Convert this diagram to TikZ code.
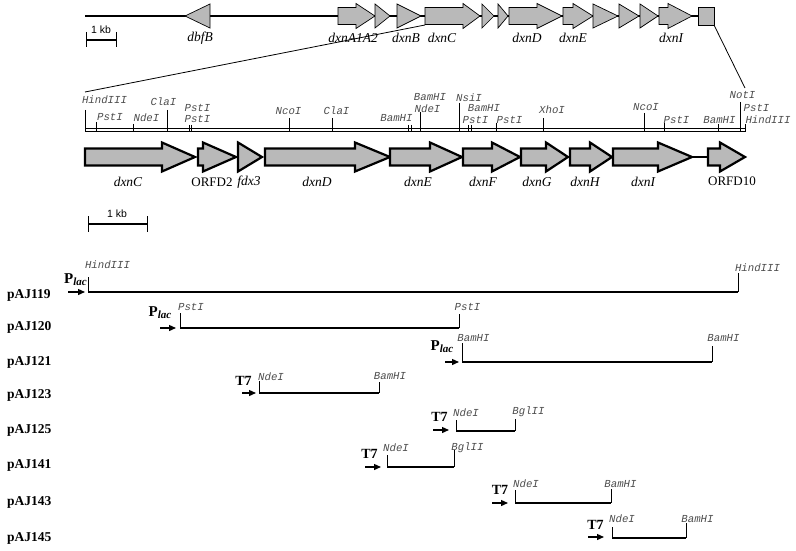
\documentclass[tikz,border=0pt]{standalone}
\usepackage{fontspec}
\setmainfont{Liberation Serif}
\setsansfont{Liberation Sans}
\setmonofont{Liberation Mono}
\usetikzlibrary{arrows.meta}
\newcommand{\garr}[7]{\draw[#1] ({#2},{#5-#6}) -- ({#3},{#5-#6}) -- ({#3},{#5-#7}) -- ({#4},{#5}) -- ({#3},{#5+#7}) -- ({#3},{#5+#6}) -- ({#2},{#5+#6}) -- cycle;}
\newcommand{\gtri}[5]{\draw[#1] ({#2},{#4-#5}) -- ({#3},{#4}) -- ({#2},{#4+#5}) -- cycle;}
\newcommand{\plac}{\textbf{P}{\fontsize{11}{11}\selectfont\raisebox{-0.35ex}{\textbf{\textit{lac}}}}}
\begin{document}
\begin{tikzpicture}[x=1pt,y=-1pt,
  gtop/.style={draw=black, fill=gray!55, line width=0.7pt, line join=miter},
  glow/.style={draw=black, fill=gray!55, line width=2.2pt, line join=miter},
  site/.style={font=\fontsize{10.7}{11}\selectfont\ttfamily\itshape, text=black!70, inner sep=0pt},
  gname/.style={font=\fontsize{13.5}{13.5}\selectfont\itshape, inner sep=0pt},
  gnameup/.style={font=\fontsize{13}{13}\selectfont, inner sep=0pt},
  plname/.style={font=\fontsize{13.5}{14}\selectfont\bfseries, inner sep=0pt, anchor=west},
  prom/.style={font=\fontsize{15}{15}\selectfont, inner sep=0pt},
  tsev/.style={font=\fontsize{14}{14}\selectfont\bfseries, inner sep=0pt},
  kb/.style={font=\fontsize{10.5}{11}\selectfont\sffamily, inner sep=0pt},
  tick/.style={line width=0.8pt},
  rline/.style={line width=0.6pt},
  cline/.style={line width=1.5pt},
  pro/.style={line width=1.3pt, -{Triangle[length=7pt,width=6pt]}}]
\useasboundingbox (0,0) rectangle (796,551);
% ---------- top overview ----------
\draw[line width=1.8pt] (85,16) -- (698,16);
\gtri{gtop}{210}{185}{16}{12}
\garr{gtop}{338}{356}{375}{16}{8.5}{12.5}
\gtri{gtop}{375}{390}{16}{12}
\gtri{gtop}{397}{421}{16}{12}
\garr{gtop}{425}{463}{480}{16}{8.5}{12.5}
\gtri{gtop}{482}{494}{16}{12}
\gtri{gtop}{498}{508}{16}{12}
\garr{gtop}{509}{537}{562}{16}{8.5}{12.5}
\garr{gtop}{563}{573}{593}{16}{8.5}{12.5}
\gtri{gtop}{593}{618}{16}{12}
\gtri{gtop}{619}{639}{16}{12}
\gtri{gtop}{640}{658}{16}{12}
\garr{gtop}{659}{668}{692}{16}{8.5}{12.5}
\draw[gtop] (698,7.5) rectangle (714,25) coordinate (boxbr);
\coordinate (boxbl) at (425,25);
\node[gname] (t1) at (200,38) {dbfB};
\node[gname] (t2) at (353,38) {dxnA1A2};
\node[gname] (t3) at (406,38) {dxnB};
\node[gname] (t4) at (442,38) {dxnC};
\node[gname] (t5) at (527,38) {dxnD};
\node[gname] (t6) at (573,38) {dxnE};
\node[gname] (t7) at (671,38) {dxnI};
% top scale bar
\draw[line width=1.2pt] (86,40) -- (116,40);
\draw[tick] (86,32) -- (86,47);
\draw[tick] (116,32) -- (116,47);
\node[kb] (kb1) at (101,30) {1 kb};
% expansion lines
\coordinate (exl) at (85,92);
\coordinate (exr) at (745,88);
\draw[line width=0.8pt] (boxbl) -- (exl);
\draw[line width=0.8pt] (boxbr) -- (exr);
% ---------- restriction map ----------
\draw[rline] (85,128.5) -- (745,128.5);
\draw[rline] (85,131.5) -- (745,131.5);
\foreach \x/\t in {85/110, 96/122, 133/124, 167/110, 189/125, 191.5/125, 289/118, 332/118,
  408/125, 411/125, 420/112, 459/103, 468/125, 471/125, 496/123, 543/118, 644/113,
  664/123, 718/124, 740/102, 745/124}
  \draw[tick] (\x,\t) -- (\x,132);
\node[site] (s1) at (104.5,100) {HindIII};
\node[site] (s2) at (110,117) {PstI};
\node[site] (s3) at (146.5,118) {NdeI};
\node[site] (s4) at (163.5,102) {ClaI};
\node[site] (s5) at (197.5,107.5) {PstI};
\node[site] (s6) at (197.5,118.5) {PstI};
\node[site] (s7) at (288.5,111) {NcoI};
\node[site] (s8) at (336.5,111) {ClaI};
\node[site] (s9) at (396.5,118) {BamHI};
\node[site] (s10) at (430,97.5) {BamHI};
\node[site] (s11) at (427.5,109) {NdeI};
\node[site] (s12) at (469,97.5) {NsiI};
\node[site] (s13) at (484,108.5) {BamHI};
\node[site] (s14) at (475.5,120) {PstI};
\node[site] (s15) at (509.5,120) {PstI};
\node[site] (s16) at (552,110) {XhoI};
\node[site] (s17) at (646,107) {NcoI};
\node[site] (s18) at (676.5,120) {PstI};
\node[site] (s19) at (719.5,120) {BamHI};
\node[site] (s20) at (742.5,95) {NotI};
\node[site] (s21) at (756.5,107.5) {PstI};
\node[site] (s22) at (768,120) {HindIII};
% ---------- gene arrows ----------
\draw[line width=1.2pt] (692,157) -- (708,157);
\garr{glow}{85}{162}{195}{157}{8.5}{14.5}
\garr{glow}{198}{203}{236}{157}{8.5}{14.5}
\gtri{glow}{238}{262}{157}{14.5}
\garr{glow}{265}{355}{390}{157}{8.5}{14.5}
\garr{glow}{390}{430}{462}{157}{8.5}{14.5}
\garr{glow}{463}{492}{520}{157}{8.5}{14.5}
\garr{glow}{521}{546}{568}{157}{8.5}{14.5}
\garr{glow}{570}{590}{612}{157}{8.5}{14.5}
\garr{glow}{613}{658}{692}{157}{8.5}{14.5}
\garr{glow}{708}{720}{745}{157}{8.5}{14.5}
\node[gname] (g1) at (128,182) {dxnC};
\node[gnameup] (g2) at (212,182) {ORFD2};
\node[gname] (g3) at (249,182) {fdx3};
\node[gname] (g4) at (317,182) {dxnD};
\node[gname] (g5) at (418,182) {dxnE};
\node[gname] (g6) at (483,182) {dxnF};
\node[gname] (g7) at (537,182) {dxnG};
\node[gname] (g8) at (585,182) {dxnH};
\node[gname] (g9) at (643,182) {dxnI};
\node[gnameup] (g10) at (732,181) {ORFD10};
% lower scale bar
\draw[line width=1.3pt] (88,224) -- (147,224);
\draw[tick] (88,216) -- (88,232);
\draw[tick] (147,216) -- (147,232);
\node[kb] (kb2) at (117,214) {1 kb};
% ---------- constructs ----------
\node[plname] (p1) at (7,295) {pAJ119};
\node[plname] (p2) at (7,327) {pAJ120};
\node[plname] (p3) at (7,362) {pAJ121};
\node[plname] (p4) at (7,395) {pAJ123};
\node[plname] (p5) at (7,430) {pAJ125};
\node[plname] (p6) at (7,465) {pAJ141};
\node[plname] (p7) at (7,502) {pAJ143};
\node[plname] (p8) at (7,538) {pAJ145};
% pAJ119
\node[prom] (pr1) at (75.5,280) {\plac};
\draw[pro] (68,292) -- (85,292);
\draw[tick] (88,277) -- (88,292);
\draw[cline] (88,292) -- (738,292);
\draw[tick] (738,273) -- (738,292);
\node[site] (c1a) at (107.5,265) {HindIII};
\node[site] (c1b) at (757.5,268) {HindIII};
% pAJ120
\node[prom] (pr2) at (160,313) {\plac};
\draw[pro] (160,328) -- (176,328);
\draw[tick] (180,313) -- (180,328);
\draw[cline] (180,328) -- (459,328);
\draw[tick] (459,314) -- (459,328);
\node[site] (c2a) at (191,307) {PstI};
\node[site] (c2b) at (467.5,307) {PstI};
% pAJ121
\node[prom] (pr3) at (442,347) {\plac};
\draw[pro] (445,362) -- (459,362);
\draw[tick] (462,343) -- (462,362);
\draw[cline] (462,362) -- (712,362);
\draw[tick] (712,346) -- (712,362);
\node[site] (c3a) at (473.5,338) {BamHI};
\node[site] (c3b) at (723.5,338) {BamHI};
% pAJ123
\node[tsev] (tt4) at (243.5,381) {T7};
\draw[pro] (242,393) -- (256,393);
\draw[tick] (259,381) -- (259,393);
\draw[cline] (259,393) -- (379,393);
\draw[tick] (379,382) -- (379,393);
\node[site] (c4a) at (271,377) {NdeI};
\node[site] (c4b) at (390,376) {BamHI};
% pAJ125
\node[tsev] (tt5) at (439.5,417) {T7};
\draw[pro] (433,430) -- (449,430);
\draw[tick] (456,420) -- (456,431);
\draw[cline] (456,431) -- (515,431);
\draw[tick] (515,419) -- (515,431);
\node[site] (c5a) at (466,413) {NdeI};
\node[site] (c5b) at (528.5,412) {BglII};
% pAJ141
\node[tsev] (tt6) at (369.5,454) {T7};
\draw[pro] (365,467) -- (381,467);
\draw[tick] (387,455) -- (387,467);
\draw[cline] (387,467) -- (454,467);
\draw[tick] (454,450) -- (454,467);
\node[site] (c6a) at (396,448) {NdeI};
\node[site] (c6b) at (467.5,448) {BglII};
% pAJ143
\node[tsev] (tt7) at (500,490) {T7};
\draw[pro] (492,503) -- (508,503);
\draw[tick] (515,490) -- (515,503);
\draw[cline] (515,503) -- (611,503);
\draw[tick] (611,489) -- (611,503);
\node[site] (c7a) at (526,484) {NdeI};
\node[site] (c7b) at (620.5,484) {BamHI};
% pAJ145
\node[tsev] (tt8) at (595.5,525) {T7};
\draw[pro] (588,537) -- (604,537);
\draw[tick] (612,527) -- (612,538);
\draw[cline] (612,538) -- (686,538);
\draw[tick] (686,523) -- (686,538);
\node[site] (c8a) at (622,519) {NdeI};
\node[site] (c8b) at (697.5,519) {BamHI};
\end{tikzpicture}
\end{document}
